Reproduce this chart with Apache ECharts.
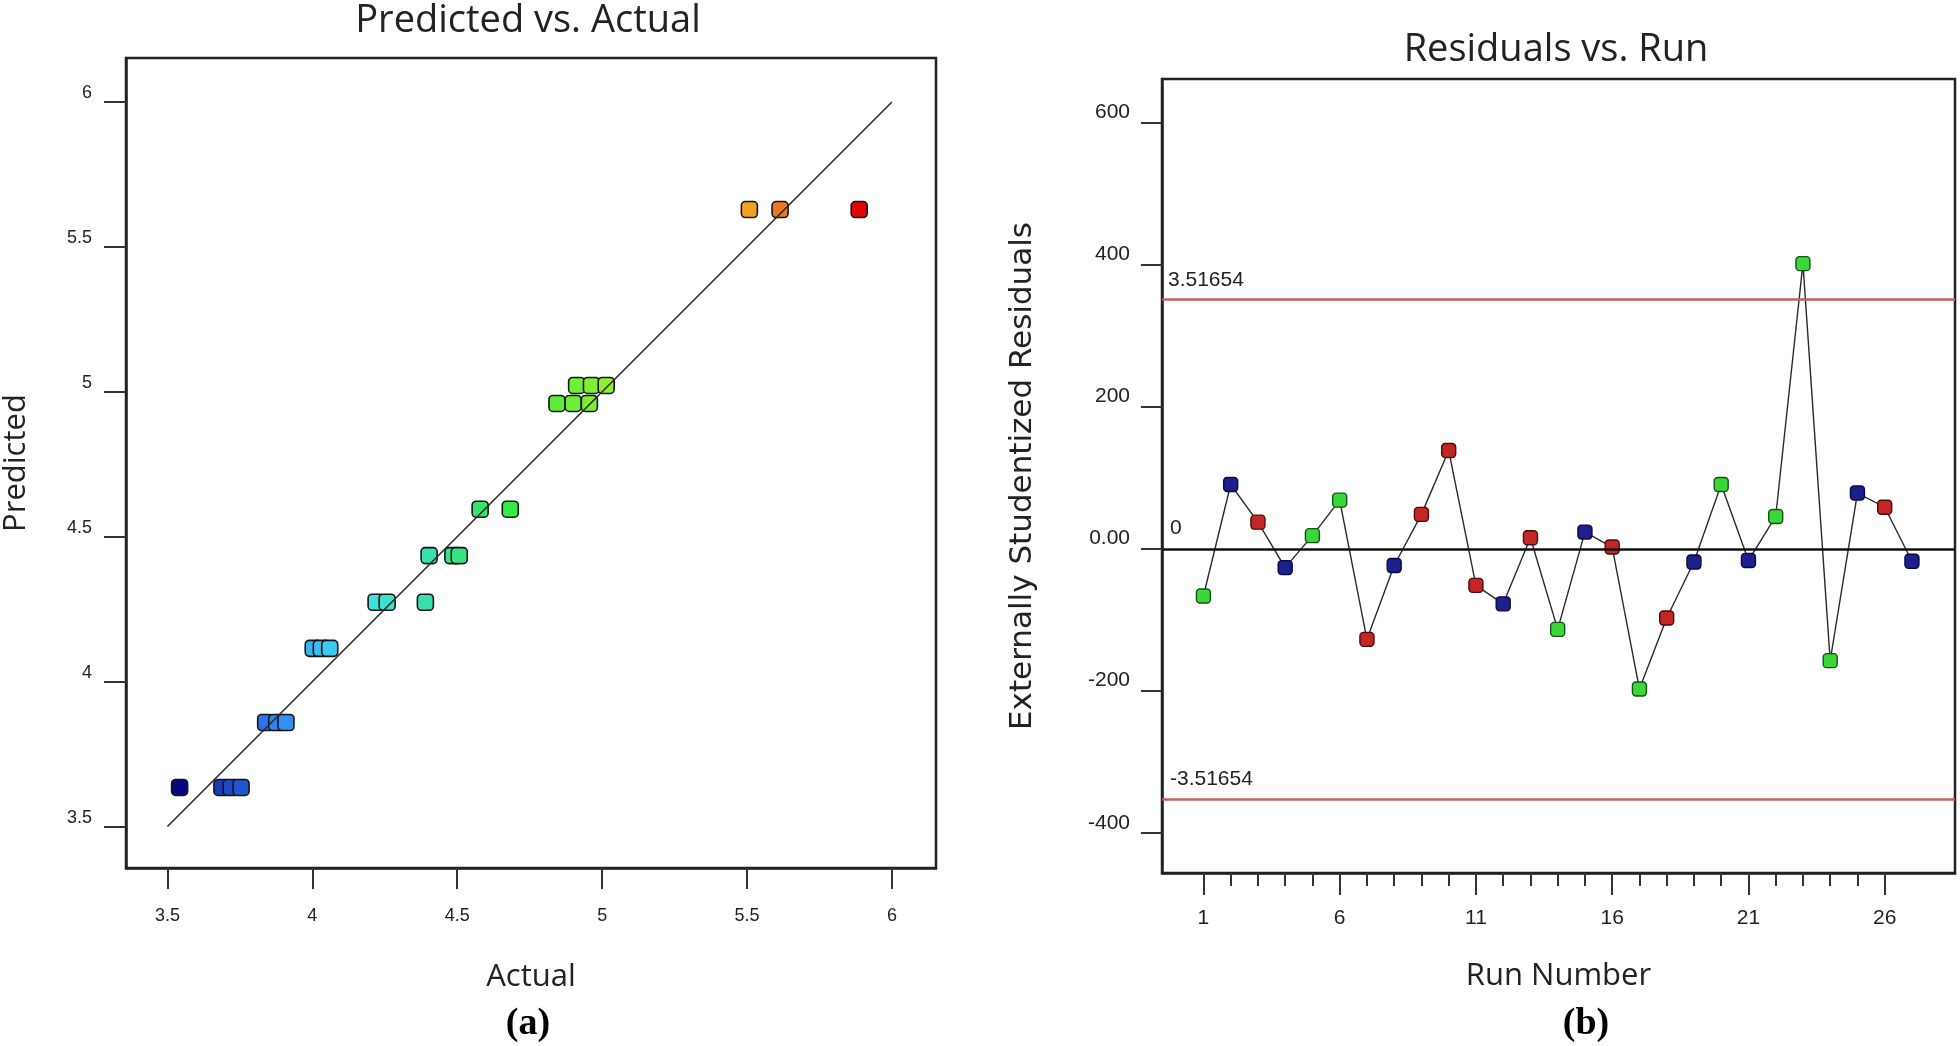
<!DOCTYPE html>
<html>
<head>
<meta charset="utf-8">
<title>Predicted vs. Actual / Residuals vs. Run</title>
<script src="https://cdn.jsdelivr.net/npm/echarts@6/dist/echarts.min.js"></script>
<style>
    html, body { margin: 0; padding: 0; background: #ffffff; }
    #chart { width: 1960px; height: 1046px; }
</style>
</head>
<body>
<div id="chart"></div>
<script>
// (a) predicted vs actual
const actual = [3.542, 3.688, 3.720, 3.754, 3.839, 3.877, 3.909, 4.003, 4.031, 4.060,
    4.220, 4.258, 4.390, 4.403, 4.485, 4.507, 4.579, 4.683, 4.844, 4.900,
    4.956, 4.912, 4.963, 5.014, 5.508, 5.614, 5.887];
const predicted = [3.635, 3.635, 3.635, 3.635, 3.859, 3.859, 3.859, 4.115, 4.115, 4.115,
    4.274, 4.274, 4.274, 4.435, 4.435, 4.435, 4.595, 4.595, 4.960, 4.960,
    4.960, 5.022, 5.022, 5.022, 5.629, 5.629, 5.629];
const fitLine = [3.5, 6];
const actualTicks = [3.5, 4, 4.5, 5, 5.5, 6];

// (b) residuals vs run
const runNumber = [1, 2, 3, 4, 5, 6, 7, 8, 9, 10, 11, 12, 13, 14, 15, 16, 17, 18, 19, 20, 21, 22, 23, 24, 25, 26, 27];
const residual = [-66, 91, 38, -26, 19, 69, -127, -23, 49, 139, -51, -77, 16, -113, 24, 3,
    -197, -97, -18, 91, -16, 46, 402, -157, 79, 59, -17];
const runGroup = ['g', 'b', 'r', 'b', 'g', 'g', 'r', 'b', 'r', 'r', 'r', 'b', 'r', 'g', 'b', 'r',
    'g', 'r', 'b', 'g', 'b', 'g', 'g', 'g', 'b', 'r', 'b'];
const runMinorTicks = [1, 2, 3, 4, 5, 6, 7, 8, 9, 10, 11, 12, 13, 14, 15, 16, 17, 18, 19, 20, 21, 22, 23, 24, 25, 26];
const runMajorTicks = [1, 6, 11, 16, 21, 26];
const residualTicks = [-400, -200, 0, 200, 400, 600];
const residualTickLabels = ['-400', '-200', '0.00', '200', '400', '600'];
const limitValue = 351.654;
const limitLabels = ['3.51654', '-3.51654'];

const groupColors = {
    g: { fill: '#3ad63a', border: '#145214' },
    b: { fill: '#1c1f8c', border: '#0a0a40' },
    r: { fill: '#c42626', border: '#4a0c0c' }
};

const textColor = '#222';
const tickFont = '"Liberation Sans", Arial, sans-serif';
const nameFont = '"Open Sans", "Noto Sans", sans-serif';

const chart = echarts.init(document.getElementById('chart'));

const scatterData = actual.map((a, i) => [a, predicted[i]]);
const residualData = runNumber.map((r, i) => ({
    value: [r, residual[i]],
    itemStyle: {
        color: groupColors[runGroup[i]].fill,
        borderColor: groupColors[runGroup[i]].border
    }
}));

const frameAxisLine = { show: true, onZero: false, lineStyle: { color: '#222', width: 2.5 } };

const option = {
    backgroundColor: '#ffffff',
    animation: false,
    grid: [
        { left: 124, top: 58, width: 812, height: 810, show: true, borderColor: '#222', borderWidth: 2.5 },
        { left: 1162, top: 79, width: 793, height: 794, show: true, borderColor: '#222', borderWidth: 2.5 }
    ],
    graphic: [
        {
            type: 'text', x: 528, y: 21,
            style: { text: 'Predicted vs. Actual', textAlign: 'center', textVerticalAlign: 'middle', font: '38px ' + nameFont, fill: textColor }
        },
        {
            type: 'text', x: 1556, y: 50,
            style: { text: 'Residuals vs. Run', textAlign: 'center', textVerticalAlign: 'middle', font: '38px ' + nameFont, fill: textColor }
        },
        {
            type: 'text', x: 528, y: 1024,
            style: { text: '(a)', textAlign: 'center', textVerticalAlign: 'middle', font: 'bold 38px "Liberation Serif", "DejaVu Serif", serif', fill: '#000' }
        },
        {
            type: 'text', x: 1586, y: 1024,
            style: { text: '(b)', textAlign: 'center', textVerticalAlign: 'middle', font: 'bold 38px "Liberation Serif", "DejaVu Serif", serif', fill: '#000' }
        }
    ],
    visualMap: {
        show: false,
        type: 'continuous',
        seriesIndex: 1,
        dimension: 0,
        min: 3.542,
        max: 5.887,
        inRange: {
            color: ['#06067e', '#2c74f0', '#40e4f0', '#38e0a4', '#34ec3a', '#8cf032', '#f8f020', '#f08020', '#e00606']
        }
    },
    xAxis: [{
        gridIndex: 0,
        type: 'value',
        min: 3.357,
        max: 6.152,
        name: 'Actual',
        nameLocation: 'middle',
        nameGap: 94,
        nameTextStyle: { fontFamily: nameFont, fontSize: 31, color: textColor },
        axisLine: frameAxisLine,
        axisTick: { show: true, inside: false, length: 21, customValues: actualTicks, lineStyle: { color: '#333', width: 2 } },
        axisLabel: {
            customValues: actualTicks, margin: 39, fontFamily: tickFont, fontSize: 18, color: textColor,
            formatter: v => String(v)
        },
        splitLine: { show: false }
    }, {
        gridIndex: 1,
        type: 'value',
        min: -0.52,
        max: 28.58,
        position: 'bottom',
        axisLine: frameAxisLine,
        axisTick: { show: true, length: 13, customValues: runMinorTicks, lineStyle: { color: '#333', width: 2 } },
        axisLabel: { show: false },
        splitLine: { show: false }
    }, {
        gridIndex: 1,
        type: 'value',
        min: -0.52,
        max: 28.58,
        position: 'bottom',
        name: 'Run Number',
        nameLocation: 'middle',
        nameGap: 88,
        nameTextStyle: { fontFamily: nameFont, fontSize: 31, color: textColor },
        axisLine: { show: false, onZero: false },
        axisTick: { show: true, length: 22, customValues: runMajorTicks, lineStyle: { color: '#333', width: 2 } },
        axisLabel: { customValues: runMajorTicks, margin: 35, fontFamily: tickFont, fontSize: 21, color: textColor },
        splitLine: { show: false }
    }],
    yAxis: [{
        gridIndex: 0,
        type: 'value',
        min: 3.357,
        max: 6.152,
        name: 'Predicted',
        nameLocation: 'middle',
        nameGap: 94,
        nameTextStyle: { fontFamily: nameFont, fontSize: 31, color: textColor },
        axisLine: frameAxisLine,
        axisTick: { show: true, length: 22, customValues: actualTicks, lineStyle: { color: '#333', width: 2 } },
        axisLabel: {
            customValues: actualTicks, margin: 34, verticalAlign: 'bottom', fontFamily: tickFont, fontSize: 18, color: textColor,
            formatter: v => String(v)
        },
        splitLine: { show: false }
    }, {
        gridIndex: 1,
        type: 'value',
        min: -456,
        max: 662,
        name: 'Externally Studentized Residuals',
        nameLocation: 'middle',
        nameGap: 124,
        nameTextStyle: { fontFamily: '"DejaVu Sans", sans-serif', fontSize: 31, color: textColor },
        axisLine: frameAxisLine,
        axisTick: { show: true, length: 21, customValues: residualTicks, lineStyle: { color: '#333', width: 2 } },
        axisLabel: {
            customValues: residualTicks, margin: 32, verticalAlign: 'bottom', fontFamily: tickFont, fontSize: 21, color: textColor,
            formatter: v => residualTickLabels[residualTicks.indexOf(v)]
        },
        splitLine: { show: false }
    }],
    series: [{
        name: 'fit',
        type: 'line',
        xAxisIndex: 0,
        yAxisIndex: 0,
        showSymbol: false,
        silent: true,
        lineStyle: { color: '#2a2a2a', width: 1.6 },
        data: fitLine.map(v => [v, v])
    }, {
        name: 'points',
        type: 'scatter',
        xAxisIndex: 0,
        yAxisIndex: 0,
        symbol: 'roundRect',
        symbolSize: 16,
        itemStyle: { borderColor: '#151515', borderWidth: 1.6, opacity: 1 },
        data: scatterData
    }, {
        name: 'residuals',
        type: 'line',
        xAxisIndex: 1,
        yAxisIndex: 1,
        symbol: 'roundRect',
        symbolSize: 14,
        showAllSymbol: true,
        lineStyle: { color: '#2a2a2a', width: 1.4 },
        itemStyle: { borderWidth: 1.4 },
        data: residualData,
        markLine: {
            silent: true,
            symbol: ['none', 'none'],
            data: [
                {
                    yAxis: limitValue,
                    lineStyle: { color: '#c06262', width: 2.5, type: 'solid' },
                    label: { show: true, position: 'insideStartTop', distance: [6, 9], formatter: limitLabels[0], fontFamily: tickFont, fontSize: 21, color: textColor }
                },
                {
                    yAxis: -limitValue,
                    lineStyle: { color: '#c06262', width: 2.5, type: 'solid' },
                    label: { show: true, position: 'insideStartTop', distance: [8, 9], formatter: limitLabels[1], fontFamily: tickFont, fontSize: 21, color: textColor }
                },
                {
                    yAxis: 0,
                    lineStyle: { color: '#111', width: 2.5, type: 'solid' },
                    label: { show: true, position: 'insideStartTop', distance: [8, 10], formatter: '0', fontFamily: tickFont, fontSize: 21, color: textColor }
                }
            ]
        }
    }]
};

chart.setOption(option);
</script>
</body>
</html>
